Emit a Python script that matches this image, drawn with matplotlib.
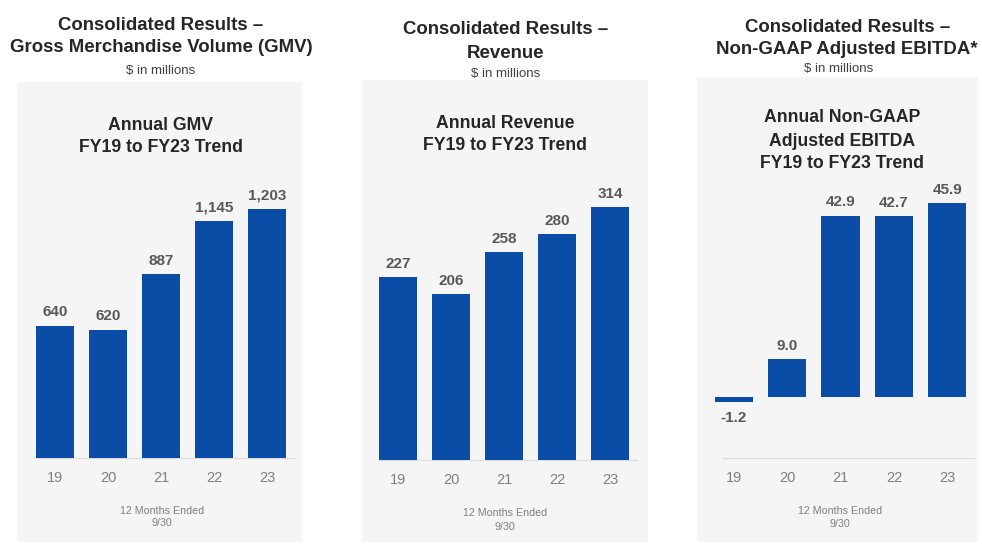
import matplotlib.pyplot as plt
from matplotlib.patches import Rectangle

W, H = 982, 545

years = ['19', '20', '21', '22', '23']
gmv = [640, 620, 887, 1145, 1203]
revenue = [227, 206, 258, 280, 314]
ebitda = [-1.2, 9.0, 42.9, 42.7, 45.9]

gmv_labels = ['640', '620', '887', '1,145', '1,203']
revenue_labels = ['227', '206', '258', '280', '314']
ebitda_labels = ['-1.2', '9.0', '42.9', '42.7', '45.9']

plt.rcParams['font.family'] = ['Liberation Sans', 'DejaVu Sans']

BLUE = '#0a4ca6'
PANEL = '#f5f5f5'
DARK = '#262626'
GREY = '#7f7f7f'
VALC = '#595959'

fig = plt.figure(figsize=(W / 100, H / 100), dpi=100)
fig.patch.set_facecolor('white')


def fx(px):
    return px / W


def fy(py):
    return 1 - py / H


def panel(x0, x1, y0, y1):
    fig.patches.append(Rectangle((fx(x0), fy(y1)), fx(x1 - x0), (y1 - y0) / H,
                                 transform=fig.transFigure, facecolor=PANEL,
                                 edgecolor='none', zorder=-5))


def txt(x, y, s, size, weight='normal', color=DARK):
    fig.text(fx(x), fy(y), s, ha='center', va='center', fontsize=size,
             fontweight=weight, color=color)


def bars(left, right, top, bottom, vals, labels, ylim, line_x):
    ax = fig.add_axes([fx(left), fy(bottom), fx(right - left), (bottom - top) / H])
    ax.set_facecolor('none')
    ax.set_zorder(2)
    xs = range(len(vals))
    b = ax.bar(xs, vals, width=0.717, color=BLUE, zorder=3)
    ax.set_xlim(-0.5, len(vals) - 0.5)
    ax.set_ylim(*ylim)
    for rect, v, lab in zip(b, vals, labels):
        cx = rect.get_x() + rect.get_width() / 2
        off = 9.5 if v >= 0 else -11.5
        ax.annotate(lab, (cx, v), xytext=(0, off), textcoords='offset points',
                    ha='center', va='center', fontsize=11, fontweight='bold',
                    color=VALC)
    for s in ['top', 'left', 'right']:
        ax.spines[s].set_visible(False)
    ax.spines['bottom'].set_color('#dcdcdc')
    ax.spines['bottom'].set_linewidth(0.8)
    ax.spines['bottom'].set_bounds(*line_x)
    ax.set_yticks([])
    ax.set_xticks(list(xs))
    ax.set_xticklabels(years, fontsize=10.5, color=GREY)
    ax.tick_params(axis='x', length=0, pad=9)
    return ax


# backgrounds
panel(17, 302, 82, 542)
panel(362, 648, 80, 542)
panel(697, 978, 77, 542)

TS = 13.4
IS = 12.7
SS = 9.5
FS = 7.7

# panel 1 - GMV
txt(161, 25, 'Consolidated Results –', TS, 'bold')
txt(161, 48, 'Gross Merchandise Volume (GMV)', TS, 'bold')
txt(161, 71, '$ in millions', SS, color='#404040')
txt(161, 125, 'Annual GMV', IS, 'bold')
txt(161, 147, 'FY19 to FY23 Trend', IS, 'bold')
bars(28.5, 293.5, 180, 458, gmv, gmv_labels, (0, 278 / 0.207), (-0.36, 4.5))
txt(162, 511, '12 Months Ended', FS, color=GREY)
txt(162, 523, '9/30', FS, color=GREY)

# panel 2 - Revenue
txt(506, 30, 'Consolidated Results –', TS, 'bold')
txt(506, 53, 'Revenue', TS, 'bold')
txt(506, 74, '$ in millions', SS, color='#404040')
txt(505, 123, 'Annual Revenue', IS, 'bold')
txt(505, 146, 'FY19 to FY23 Trend', IS, 'bold')
bars(371.5, 637, 180, 460, revenue, revenue_labels, (0, 280 / 0.806), (-0.36, 4.5))
txt(505, 513, '12 Months Ended', FS, color=GREY)
txt(505, 527, '9/30', FS, color=GREY)

# panel 3 - EBITDA
txt(848, 28, 'Consolidated Results –', TS, 'bold')
txt(847, 49, 'Non-GAAP Adjusted EBITDA*', TS, 'bold')
txt(839, 69, '$ in millions', SS, color='#404040')
txt(842, 118, 'Annual Non-GAAP', IS, 'bold')
txt(842, 141, 'Adjusted EBITDA', IS, 'bold')
txt(842, 164, 'FY19 to FY23 Trend', IS, 'bold')
bars(707, 974, 180, 458, ebitda, ebitda_labels, (-61 / 4.23, 217 / 4.23), (-0.2, 4.5))
txt(840, 511, '12 Months Ended', FS, color=GREY)
txt(840, 524, '9/30', FS, color=GREY)

fig.savefig('out.png', dpi=100)
